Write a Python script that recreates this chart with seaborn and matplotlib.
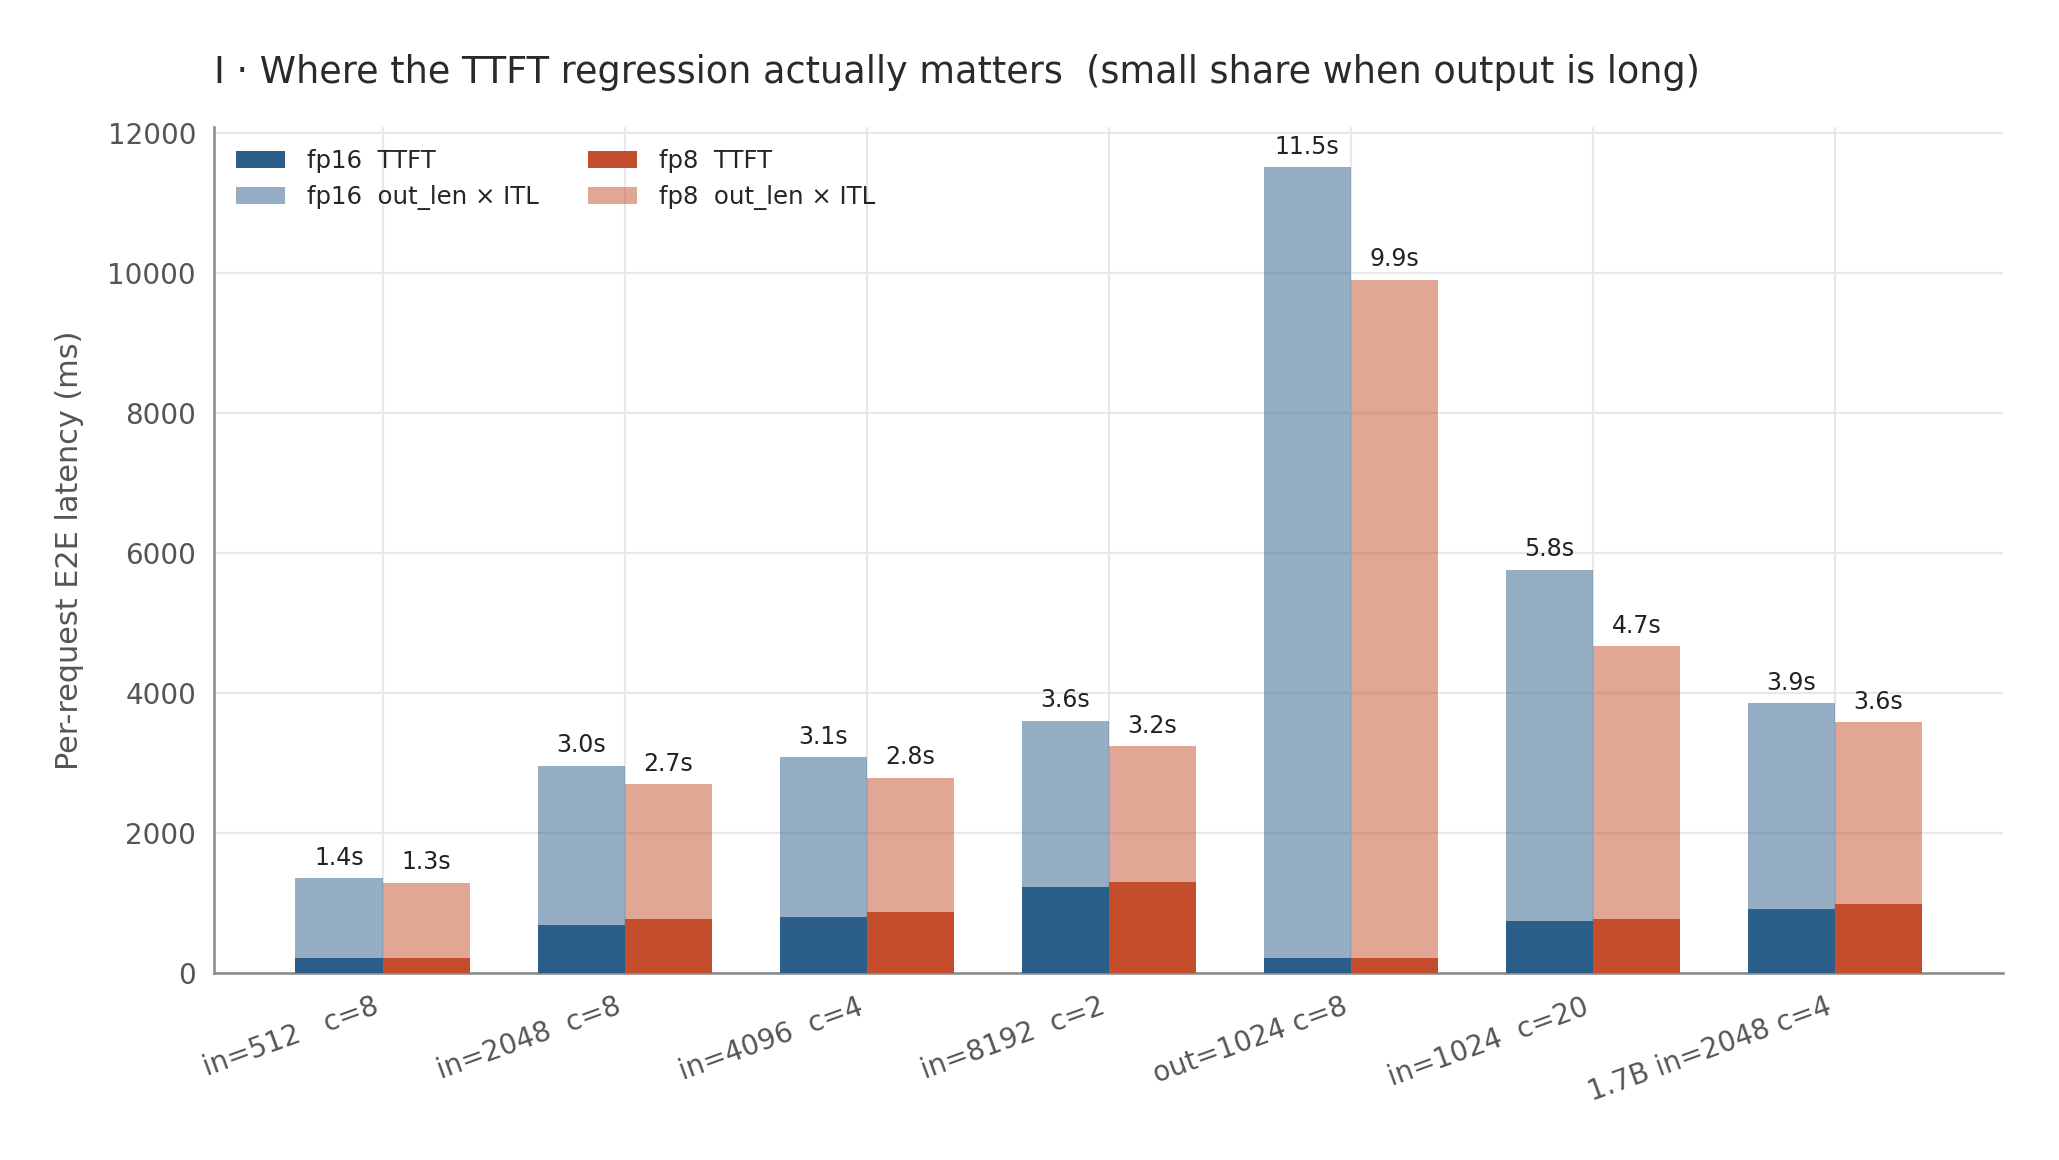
import matplotlib
matplotlib.use("Agg")
import matplotlib.pyplot as plt
import seaborn as sns
import pandas as pd
import numpy as np

categories = ["in=512   c=8", "in=2048  c=8", "in=4096  c=4", "in=8192  c=2",
              "out=1024 c=8", "in=1024  c=20", "1.7B in=2048 c=4"]
fp16_ttft = [215, 682, 797, 1226, 215, 740, 911]
fp16_decode = [1145, 2283, 2288, 2379, 11295, 5025, 2949]
fp8_ttft = [215, 768, 868, 1297, 215, 768, 983]
fp8_decode = [1080, 1932, 1927, 1943, 9690, 3902, 2602]

C_FP16 = "#2c5e8a"
C_FP8 = "#c44e2b"

sns.set_theme(style="whitegrid")
plt.rcParams["font.family"] = ["DejaVu Sans"]

rows = []
for i, cat in enumerate(categories):
    rows.append(dict(cat=cat, prec="fp16", ttft=fp16_ttft[i], total=fp16_ttft[i] + fp16_decode[i]))
    rows.append(dict(cat=cat, prec="fp8", ttft=fp8_ttft[i], total=fp8_ttft[i] + fp8_decode[i]))
df = pd.DataFrame(rows)

fig = plt.figure(figsize=(10.295, 5.8), dpi=200)
ax = fig.add_axes([0.104, 0.161, 0.869, 0.7295])

pal = {"fp16": C_FP16, "fp8": C_FP8}
sns.barplot(data=df, x="cat", y="total", hue="prec", palette=pal, width=0.72,
            alpha=0.5, linewidth=0, saturation=1, ax=ax, legend=False, zorder=2)
sns.barplot(data=df, x="cat", y="ttft", hue="prec", palette=pal, width=0.72,
            linewidth=0, saturation=1, ax=ax, legend=False, zorder=3)

tot_containers = ax.containers[:2]
for cont in tot_containers:
    for bar in cont:
        h = bar.get_height()
        ax.annotate(f"{h/1000:.1f}s", (bar.get_x() + bar.get_width() / 2, h),
                    xytext=(0, 3), textcoords="offset points", ha="center", va="bottom",
                    fontsize=8.5, color="#222222")

handles = [ax.containers[2], ax.containers[0], ax.containers[3], ax.containers[1]]
labels = ["fp16  TTFT", "fp16  out_len × ITL", "fp8  TTFT", "fp8  out_len × ITL"]
ax.legend(handles, labels, loc="upper left", ncol=2, frameon=False, fontsize=8.8,
          columnspacing=2.0, handletextpad=0.9)

ax.set_xlim(-0.696, 6.696)
ax.set_ylim(0, 12085)
ax.set_xlabel("")
ax.set_ylabel("Per-request E2E latency (ms)", fontsize=10.9, color="#555555", labelpad=8.5)
ax.set_title("I · Where the TTFT regression actually matters  (small share when output is long)",
             loc="left", fontsize=13.2, color="#2a2a2a", pad=16)
ax.set_yticks([0, 2000, 4000, 6000, 8000, 10000, 12000])
ax.tick_params(axis="y", labelsize=10, colors="#555555", length=0, pad=6.5)
ax.tick_params(axis="x", labelsize=10, colors="#555555", length=0, pad=7)
plt.setp(ax.get_xticklabels(), rotation=20, ha="right")
ax.grid(True, color="#e8e8e8", linewidth=0.8)
ax.set_axisbelow(True)
for s in ["top", "right"]:
    ax.spines[s].set_visible(False)
for s in ["left", "bottom"]:
    ax.spines[s].set_color("#888888")
    ax.spines[s].set_linewidth(0.9)

fig.savefig("out.png", dpi=200, facecolor="white")
